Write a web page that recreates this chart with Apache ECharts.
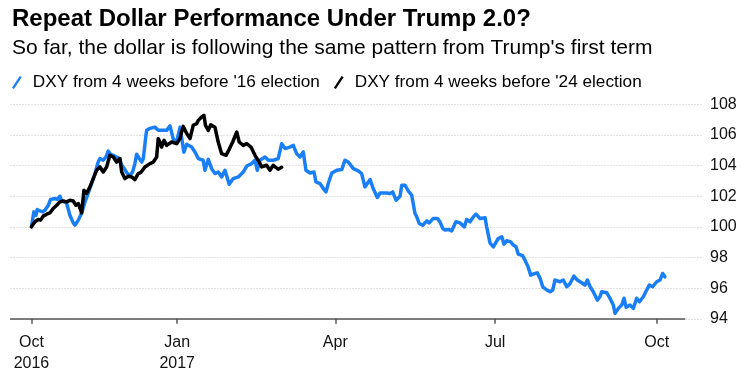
<!DOCTYPE html>
<html><head><meta charset="utf-8">
<script src="https://cdn.jsdelivr.net/npm/echarts@6/dist/echarts.min.js"></script>
<style>html,body{margin:0;padding:0;background:#fff}#c{width:752px;height:380px}</style>
</head><body><div id="c"></div>
<script>
const titleText = 'Repeat Dollar Performance Under Trump 2.0?';
const subtitleText = "So far, the dollar is following the same pattern from Trump's first term";
const seriesNames = ["DXY from 4 weeks before '16 election", "DXY from 4 weeks before '24 election"];
// x = calendar days since the start of the window (4 weeks before the 2016 election)
const xTickDays = [0, 83, 173, 264, 356];
const xTickLabels = ['Oct\n2016', 'Jan\n2017', 'Apr', 'Jul', 'Oct'];
const xRange = [-12.2, 381.8];
const xAxisLineEnd = 372.2;
const yRange = [94, 108];
const yStep = 2;

const dxy2016 = [[0,100.0],[1.4,100.98],[2.6,100.76],[3.3,101.13],[4.8,101.04],[6.4,100.98],[7.7,101.09],[9.6,101.41],[10.9,101.79],[13.4,101.85],[14.7,101.79],[16.2,102.0],[17.2,101.69],[18.5,101.63],[20.0,101.56],[21.9,100.76],[23.8,100.26],[24.8,100.11],[26.7,100.44],[28.6,100.91],[30.5,101.63],[32.3,102.18],[34.3,102.83],[36.2,103.48],[38.0,104.23],[39.0,104.46],[40.9,104.35],[42.4,104.56],[43.7,104.95],[45.1,104.74],[46.6,104.67],[48.5,104.56],[50.0,104.46],[51.4,104.02],[53.2,103.74],[54.6,103.48],[56.1,103.37],[57.6,103.58],[58.9,104.13],[59.9,104.74],[61.4,104.46],[62.8,104.23],[63.7,104.46],[65.2,105.97],[65.6,106.30],[67.5,106.43],[70.3,106.51],[72.2,106.30],[74.3,106.30],[77.0,106.30],[78.9,106.59],[80.8,105.71],[82.7,105.58],[84.6,106.50],[85.5,106.50],[86.8,104.87],[88.4,105.39],[91.2,105.21],[93.1,104.89],[95.0,104.46],[97.8,104.35],[98.8,103.69],[100.7,104.41],[102.6,103.80],[104.5,103.48],[106.4,103.58],[108.3,103.26],[110.2,103.69],[112.6,102.78],[114.9,103.15],[117.8,103.26],[120.6,103.58],[122.6,103.97],[125.4,104.13],[127.3,104.35],[128.6,103.69],[130.1,104.35],[133.0,104.56],[134.9,104.35],[137.7,104.35],[140.5,104.46],[142.5,105.43],[144.4,105.11],[147.2,105.21],[149.1,105.32],[151.0,104.78],[152.9,104.56],[154.8,104.89],[156.3,103.69],[158.6,103.52],[160.9,103.58],[162.0,102.93],[164.3,102.83],[166.2,102.50],[167.7,102.28],[169.0,102.83],[171.0,103.52],[173.8,103.69],[176.7,103.74],[178.5,104.35],[180.4,104.23],[183.3,103.80],[186.1,103.65],[188.0,103.48],[189.9,102.61],[192.8,103.09],[194.6,102.50],[196.9,101.92],[198.5,102.21],[202.3,102.21],[204.2,102.18],[205.7,102.28],[207.6,101.74],[209.9,102.0],[210.8,102.72],[212.7,102.72],[214.6,102.33],[216.5,102.07],[218.4,100.87],[219.4,100.65],[220.8,100.22],[222.8,100.11],[225.1,100.39],[226.5,100.26],[228.8,100.55],[231.1,100.55],[232.6,100.33],[234.2,99.90],[235.5,99.79],[237.4,99.83],[239.3,99.74],[241.7,100.33],[244.0,100.26],[246.5,100.0],[247.8,100.48],[249.7,100.33],[251.6,100.65],[253.1,100.83],[255.4,100.55],[258.3,100.59],[259.2,100.0],[261.1,98.96],[263.0,98.70],[265.8,99.24],[267.8,99.35],[269.1,98.87],[270.6,99.09],[272.9,99.02],[274.4,98.81],[275.9,98.70],[277.2,98.22],[279.7,98.12],[281.0,97.83],[282.7,97.41],[284.3,96.85],[286.7,96.96],[288.0,97.0],[289.6,96.64],[291.1,96.09],[293.4,95.88],[295.3,95.77],[296.8,95.88],[298.1,96.53],[301.0,96.42],[302.8,96.53],[304.8,96.09],[306.7,96.31],[308.9,96.79],[310.8,96.53],[313.3,96.35],[315.2,96.20],[316.5,96.53],[318.1,96.09],[319.9,95.77],[322.2,95.22],[323.7,95.44],[324.7,95.77],[327.6,95.70],[329.4,95.34],[331.3,94.90],[332.3,94.36],[334.2,94.68],[336.1,94.90],[337.4,95.34],[338.6,94.75],[340.8,94.90],[342.7,94.68],[344.6,95.34],[346.1,95.11],[348.4,95.44],[350.3,95.88],[351.8,96.20],[353.7,96.09],[356.0,96.42],[357.9,96.53],[359.4,96.96],[360.7,96.74]];

const dxy2024 = [[0,100.0],[2.0,100.33],[3.9,100.48],[5.2,100.44],[6.7,100.70],[8.7,100.83],[10.5,100.91],[12.4,101.20],[14.4,101.41],[16.2,101.63],[18.1,101.69],[20.0,101.63],[21.9,101.74],[23.8,101.69],[25.3,101.41],[26.7,101.52],[28.6,100.91],[29.9,102.39],[31.4,102.18],[33.3,102.61],[35.2,103.15],[37.1,103.69],[39.0,103.91],[40.9,103.58],[42.8,103.91],[44.7,104.67],[46.6,104.56],[48.5,104.23],[50.4,104.46],[51.4,103.58],[53.2,103.15],[55.1,103.30],[57.1,103.26],[58.9,103.09],[60.8,103.48],[62.4,103.56],[64.6,103.91],[67.5,104.13],[69.4,104.23],[71.3,104.56],[72.2,105.76],[73.2,105.54],[74.1,105.21],[75.5,105.65],[77.0,105.32],[79.8,105.54],[82.7,105.43],[84.6,105.76],[85.5,106.19],[86.4,106.56],[88.4,106.10],[90.3,105.76],[92.1,106.63],[94.1,106.74],[95.0,106.95],[96.9,107.17],[98.2,107.28],[99.1,106.63],[100.7,106.30],[102.1,106.66],[104.5,106.50],[106.4,105.52],[108.3,104.78],[110.8,104.67],[112.6,105.06],[114.6,105.54],[116.9,106.19],[118.3,105.54],[120.6,105.32],[122.6,105.43],[125.0,105.21],[127.3,104.67],[129.7,104.23],[131.1,103.91],[132.0,103.91],[133.9,104.02],[135.8,103.69],[137.7,104.02],[138.7,103.91],[140.5,103.76],[142.5,103.89]];

const FONT = '"Liberation Sans", Arial, Helvetica, sans-serif';
const BLUE = '#1a7ff7';
const BLACK = '#000000';
const slash = 'path://M0,12 L8,0 L10,1.4 L2,13.4 Z';

const chart = echarts.init(document.getElementById('c'), null, {renderer: 'canvas'});
chart.setOption({
  animation: false,
  backgroundColor: '#fff',
  textStyle: {fontFamily: FONT},
  title: [
    {text: titleText, left: 7, top: 2,
     textStyle: {fontFamily: FONT, fontSize: 24, fontWeight: 'bold', color: '#000'}},
    {text: subtitleText, left: 7, top: 33,
     textStyle: {fontFamily: FONT, fontSize: 21, fontWeight: 'normal', color: '#000'}}
  ],
  legend: {
    left: 7, top: 69, itemWidth: 10, itemHeight: 13, itemGap: 14,
    icon: slash,
    textStyle: {fontFamily: FONT, fontSize: 17.2, color: '#000', padding: [0, 0, 0, 6]},
    data: [
      {name: seriesNames[0], itemStyle: {color: BLUE}},
      {name: seriesNames[1], itemStyle: {color: BLACK}}
    ]
  },
  grid: {left: 10, right: 50, top: 104.3, bottom: 61.2, containLabel: false},
  xAxis: {
    type: 'value', min: xRange[0], max: xRange[1],
    axisLine: {show: false},
    splitLine: {show: false},
    axisTick: {show: true, customValues: xTickDays, length: 5, lineStyle: {color: '#555', width: 1.5}},
    axisLabel: {
      customValues: xTickDays, margin: 13.5, fontFamily: FONT, fontSize: 16, lineHeight: 21, color: '#111',
      formatter: v => { const i = xTickDays.indexOf(v); return i >= 0 ? xTickLabels[i] : ''; }
    }
  },
  yAxis: {
    type: 'value', position: 'right', min: yRange[0], max: yRange[1], interval: yStep,
    axisLine: {show: false}, axisTick: {show: false},
    axisLabel: {margin: 8, fontFamily: FONT, fontSize: 16, color: '#111'},
    splitLine: {show: true, lineStyle: {color: '#e2e2e2', width: 1, type: [2, 1]}}
  },
  series: [
    {
      name: seriesNames[0], type: 'line', data: dxy2016, showSymbol: false, symbol: 'none',
      lineStyle: {color: BLUE, width: 3.5, join: 'round', cap: 'round'}, itemStyle: {color: BLUE}, z: 3,
      markLine: {
        silent: true, symbol: 'none', label: {show: false},
        lineStyle: {color: '#555', width: 1.5, type: 'solid'},
        data: [[{coord: [xRange[0], yRange[0]]}, {coord: [xAxisLineEnd, yRange[0]]}]]
      }
    },
    {
      name: seriesNames[1], type: 'line', data: dxy2024, showSymbol: false, symbol: 'none',
      lineStyle: {color: BLACK, width: 3.5, join: 'round', cap: 'round'}, itemStyle: {color: BLACK}, z: 4
    }
  ]
});
</script></body></html>
